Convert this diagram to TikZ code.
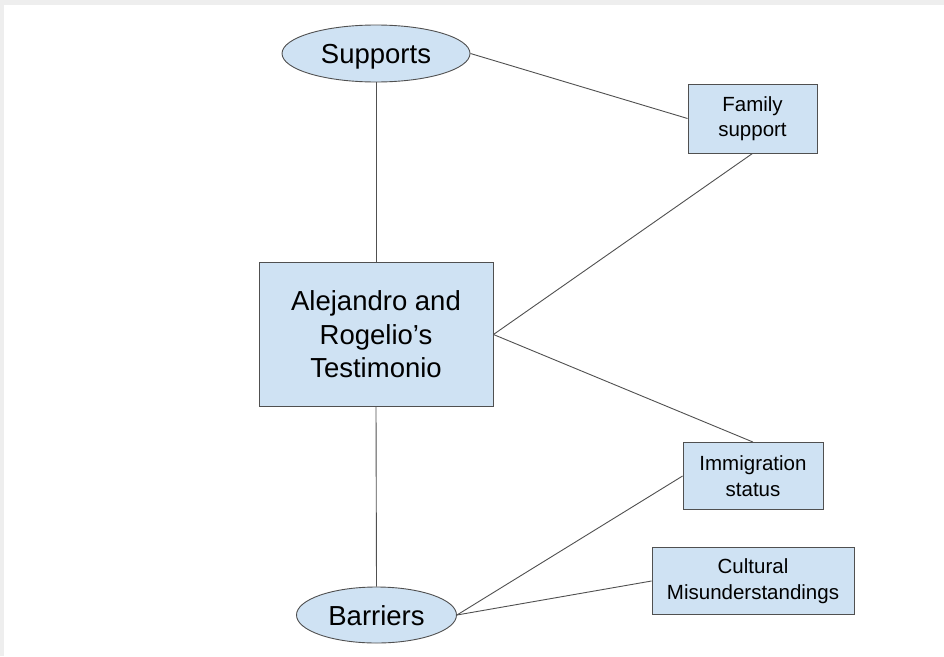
\documentclass[tikz,border=0pt]{standalone}
\usepackage{fontspec}
\setmainfont{Liberation Sans}
\usetikzlibrary{shapes.geometric}
\definecolor{boxfill}{HTML}{CFE2F3}
\definecolor{edgegray}{HTML}{505050}
\definecolor{bandgray}{HTML}{EEEEEE}
\tikzset{
  bigtext/.style={font=\fontsize{27.5}{33.5}\selectfont, align=center},
  smalltext/.style={font=\fontsize{20.5}{25.5}\selectfont, align=center},
  oval/.style={ellipse, draw=edgegray, fill=boxfill, line width=0.9pt, inner sep=0pt, bigtext},
  bigbox/.style={rectangle, draw=edgegray, fill=boxfill, line width=0.9pt, inner sep=0pt, bigtext},
  smallbox/.style={rectangle, draw=edgegray, fill=boxfill, line width=0.9pt, inner sep=0pt, smalltext},
  link/.style={draw=edgegray, line width=0.9pt}
}
\begin{document}
\begin{tikzpicture}[x=1pt, y=-1pt]
  \useasboundingbox (0,0) rectangle (944,656);
  \fill[white] (0,0) rectangle (944,656);
  % frame bands along the top and left edges
  \fill[bandgray] (0,0) rectangle (944,5);
  \fill[bandgray] (0,0) rectangle (4,656);

  \node[oval, minimum width=188pt, minimum height=57pt, text height=19pt, text depth=0pt]
    (sup) at (376,53.5) {Supports};
  \node[bigbox, minimum width=234pt, minimum height=144pt] (main) at (376,334.5)
    {Alejandro and\\Rogelio’s\\Testimonio};
  \node[oval, minimum width=160pt, minimum height=56pt, text height=20pt, text depth=0pt]
    (bar) at (376.5,615) {Barriers};
  \node[smallbox, minimum width=129pt, minimum height=69pt] (fam) at (752.5,118.5) {Family\\support};
  \node[smallbox, minimum width=140pt, minimum height=67pt] (imm) at (753,476) {Immigration\\status};
  \node[smallbox, minimum width=202pt, minimum height=67pt] (cul) at (753,581) {Cultural\\Misunderstandings};

  \draw[link] (sup.south) -- (main.north);
  \draw[link] (main.south) -- (bar.north);
  \draw[link] (sup.east) -- (fam.west);
  \draw[link] (fam.south) -- (main.east);
  \draw[link] (main.east) -- (imm.north);
  \draw[link] (bar.east) -- (imm.west);
  \draw[link] (bar.east) -- (cul.west);
\end{tikzpicture}
\end{document}
